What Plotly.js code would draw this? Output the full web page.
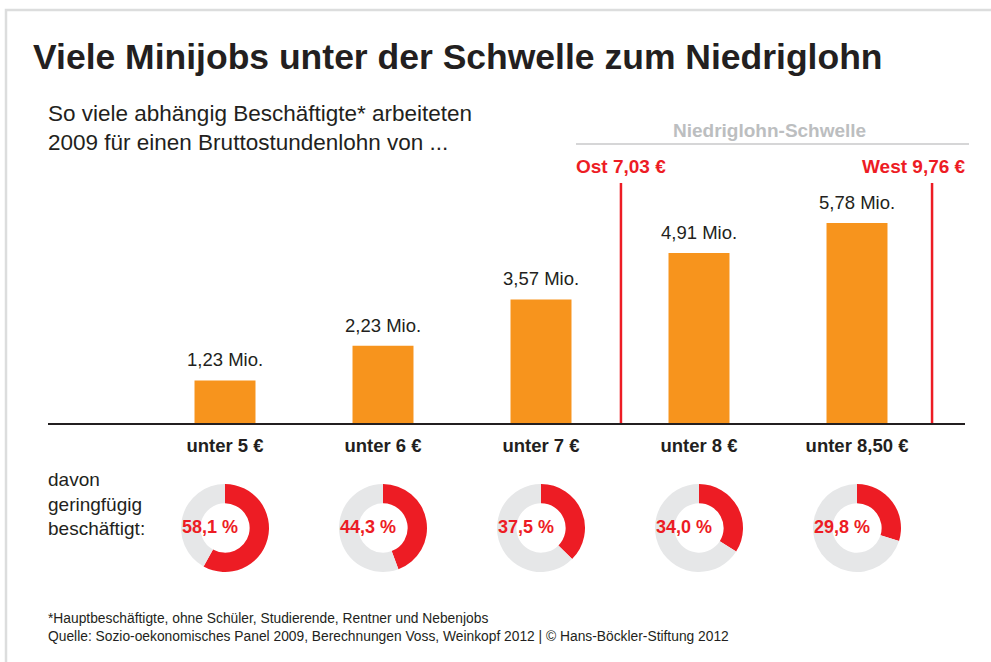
<!DOCTYPE html>
<html><head><meta charset="utf-8">
<script src="https://cdn.plot.ly/plotly-3.0.1.min.js"></script>
<style>html,body{margin:0;padding:0;background:#fff}#chart{width:991px;height:662px}</style>
</head><body><div id="chart"></div>
<script>
const categories = ['unter 5 €', 'unter 6 €', 'unter 7 €', 'unter 8 €', 'unter 8,50 €'];
const valuesMio = [1.23, 2.23, 3.57, 4.91, 5.78];
const barLabels = ['1,23 Mio.', '2,23 Mio.', '3,57 Mio.', '4,91 Mio.', '5,78 Mio.'];
const minijobShare = [58.1, 44.3, 37.5, 34.0, 29.8];
const shareLabels = ['58,1 %', '44,3 %', '37,5 %', '34,0 %', '29,8 %'];
const thresholdLabels = ['Ost 7,03 €', 'West 9,76 €'];
const thresholdPos = [2.506, 4.475];

const W = 991, H = 662;
const FONT = 'Liberation Sans, Arial, sans-serif';
const DARK = '#231f20', RED = '#ed1c24', ORANGE = '#f7941d', GREY = '#e6e7e8';

const plotL = 48, plotR = 965, plotTop = 183, plotBottom = 423;
const xRange = [-(225 - plotL) / 158, (plotR - 225) / 158];
const yRange = [0, (plotBottom - plotTop) / 34.6];
const xIdx = categories.map((c, i) => i);
const px = i => plotL + (i - xRange[0]) / (xRange[1] - xRange[0]) * (plotR - plotL);
const fy = p => (H - p) / H;
const fx = p => p / W;

const data = [{
  type: 'bar', x: xIdx, y: valuesMio, width: 0.386,
  marker: {color: ORANGE}, hoverinfo: 'skip', showlegend: false
}];

const donutCY = 528, donutR = 44;
minijobShare.forEach((v, i) => {
  const cx = px(i);
  data.push({
    type: 'pie', values: [v, 100 - v], sort: false, direction: 'clockwise', rotation: 0,
    hole: 0.56, textinfo: 'none', hoverinfo: 'skip', showlegend: false,
    marker: {colors: [RED, GREY], line: {width: 0}},
    domain: {x: [fx(cx - donutR), fx(cx + donutR)], y: [fy(donutCY + donutR), fy(donutCY - donutR)]}
  });
});

const annotations = [
  {text: '<b>Viele Minijobs unter der Schwelle zum Niedriglohn</b>', xref: 'paper', yref: 'paper',
   x: fx(31), y: fy(57), xanchor: 'left', yanchor: 'middle', showarrow: false,
   font: {family: FONT, size: 35.5, color: DARK}},
  {text: 'So viele abhängig Beschäftigte* arbeiteten<br>2009 für einen Bruttostundenlohn von ...', xref: 'paper', yref: 'paper',
   x: fx(46), y: fy(128), xanchor: 'left', yanchor: 'middle', align: 'left', showarrow: false,
   font: {family: FONT, size: 22.5, color: DARK}},
  {text: '<b>Niedriglohn-Schwelle</b>', xref: 'paper', yref: 'paper',
   x: fx(769), y: fy(130), xanchor: 'center', yanchor: 'middle', showarrow: false,
   font: {family: FONT, size: 19, color: '#bcbec0'}},
  {text: '<b>' + thresholdLabels[0] + '</b>', xref: 'paper', yref: 'paper',
   x: fx(574), y: fy(166), xanchor: 'left', yanchor: 'middle', showarrow: false,
   font: {family: FONT, size: 19, color: RED}},
  {text: '<b>' + thresholdLabels[1] + '</b>', xref: 'paper', yref: 'paper',
   x: fx(968), y: fy(166), xanchor: 'right', yanchor: 'middle', showarrow: false,
   font: {family: FONT, size: 19, color: RED}},
  {text: 'davon<br>geringfügig<br>beschäftigt:', xref: 'paper', yref: 'paper',
   x: fx(46), y: fy(504), xanchor: 'left', yanchor: 'middle', align: 'left', showarrow: false,
   font: {family: FONT, size: 19, color: DARK}},
  {text: '*Hauptbeschäftigte, ohne Schüler, Studierende, Rentner und Nebenjobs<br>Quelle: Sozio-oekonomisches Panel 2009, Berechnungen Voss, Weinkopf 2012 | © Hans-Böckler-Stiftung 2012',
   xref: 'paper', yref: 'paper', x: fx(46), y: fy(627), xanchor: 'left', yanchor: 'middle', align: 'left', showarrow: false,
   font: {family: FONT, size: 13.8, color: DARK}}
];
valuesMio.forEach((v, i) => annotations.push({
  text: barLabels[i], x: i, y: v, xref: 'x', yref: 'y', xanchor: 'center', yanchor: 'bottom',
  yshift: 8, showarrow: false, font: {family: FONT, size: 18.5, color: DARK}
}));
shareLabels.forEach((t, i) => annotations.push({
  text: '<b>' + t + '</b>', xref: 'paper', yref: 'paper', x: fx(px(i) - 15), y: fy(donutCY - 1),
  xanchor: 'center', yanchor: 'middle', showarrow: false, font: {family: FONT, size: 18, color: RED}
}));

const shapes = [
  {type: 'rect', xref: 'paper', yref: 'paper', x0: fx(6), x1: fx(1010), y0: fy(700), y1: fy(10),
   line: {color: '#dcdddd', width: 2.5}, fillcolor: 'rgba(0,0,0,0)', layer: 'below'},
  {type: 'line', xref: 'paper', yref: 'paper', x0: fx(576), x1: fx(969), y0: fy(144), y1: fy(144),
   line: {color: '#c8c9ca', width: 1.5}}
];
thresholdPos.forEach(p => shapes.push({
  type: 'line', xref: 'x', yref: 'y', x0: p, x1: p, y0: 0, y1: yRange[1],
  line: {color: RED, width: 2.5}
}));

const layout = {
  width: W, height: H, margin: {l: 0, r: 0, t: 0, b: 0},
  paper_bgcolor: '#fff', plot_bgcolor: 'rgba(0,0,0,0)',
  xaxis: {domain: [fx(plotL), fx(plotR)], range: xRange, showgrid: false, zeroline: false,
    showline: true, linecolor: DARK, linewidth: 1.5,
    tickvals: xIdx, ticktext: categories, ticks: '', ticklabelstandoff: 5,
    tickfont: {family: FONT, size: 18.5, color: DARK, weight: 'bold'}, fixedrange: true},
  yaxis: {domain: [fy(plotBottom), fy(plotTop)], range: yRange, showgrid: false, zeroline: false,
    showticklabels: false, showline: false, fixedrange: true},
  annotations: annotations, shapes: shapes, showlegend: false
};

Plotly.newPlot('chart', data, layout, {displayModeBar: false, staticPlot: true});
</script></body></html>
